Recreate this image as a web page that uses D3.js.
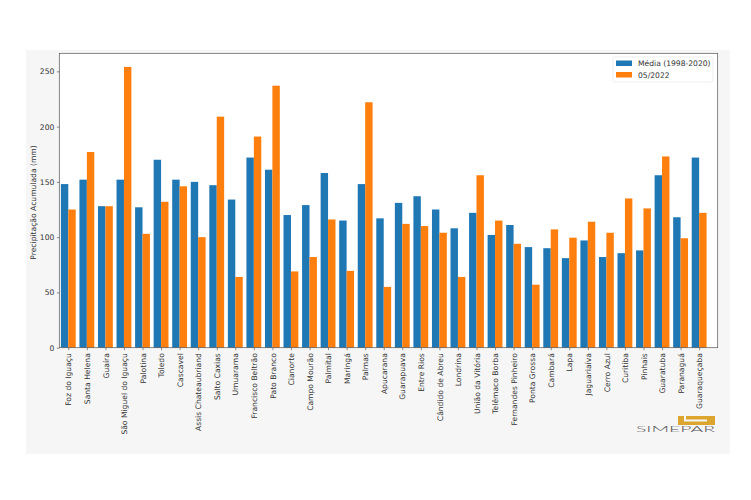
<!DOCTYPE html>
<html>
<head>
<meta charset="utf-8">
<script src="https://cdn.jsdelivr.net/npm/d3@7"></script>
<style>
  html, body { margin: 0; padding: 0; background: #fff; }
  svg { display: block; font-family: "DejaVu Sans", sans-serif; }
</style>
</head>
<body>
<svg id="chart"></svg>
<script>
const stations = ['Foz do Iguaçu', 'Santa Helena', 'Guaíra', 'São Miguel do Iguaçu', 'Palotina', 'Toledo', 'Cascavel',
  'Assis Chateaubriand', 'Salto Caxias', 'Umuarama', 'Francisco Beltrão', 'Pato Branco', 'Cianorte', 'Campo Mourão',
  'Palmital', 'Maringá', 'Palmas', 'Apucarana', 'Guarapuava', 'Entre Rios', 'Cândido de Abreu', 'Londrina',
  'União da Vitória', 'Telêmaco Borba', 'Fernandes Pinheiro', 'Ponta Grossa', 'Cambará', 'Lapa', 'Jaguariaíva',
  'Cerro Azul', 'Curitiba', 'Pinhais', 'Guaratuba', 'Paranaguá', 'Guaraqueçaba']
const media = [148, 152, 128, 152, 127, 170, 152, 150, 147, 134, 172, 161, 120, 129, 158, 115, 148, 117, 131, 137, 125,
  108, 122, 102, 111, 91, 90, 81, 97, 82, 85.5, 88, 156, 118, 172]
const mes = [125, 177, 128, 254, 103, 132, 146, 100, 209, 64, 191, 237, 69, 82, 116, 69.5, 222, 55, 112, 110, 104,
  64, 156, 115, 94, 57, 107, 99.5, 114, 104, 135, 126, 173, 99, 122]
const yTicks = [0, 50, 100, 150, 200, 250]
const seriesNames = ['Média (1998-2020)', '05/2022']
const blue = '#1f77b4'
const orange = '#ff7f0e'
const textColor = '#333'
const figureGrey = '#f6f6f6'

const w = 751
const h = 500
const plot = { left: 59.3, right: 717.7, top: 53.3, bottom: 347.7 }
const barWidth = 0.4

const svg = d3.select('#chart').attr('width', w).attr('height', h)

// grey figure background
svg.append('rect')
  .attr('x', 26).attr('y', 50)
  .attr('width', 704).attr('height', 404)
  .attr('fill', figureGrey)

svg.append('rect')
  .attr('x', plot.left).attr('y', plot.top)
  .attr('width', plot.right - plot.left).attr('height', plot.bottom - plot.top)
  .attr('fill', '#fff')

const x = d3.scaleLinear().domain([-0.485, 35]).range([plot.left, plot.right])
const y = d3.scaleLinear().domain([0, 266.3]).range([plot.bottom, plot.top])

svg.append('g').selectAll('rect')
  .data(media)
  .enter()
  .append('rect')
  .attr('x', (d, i) => x(i - barWidth))
  .attr('y', d => y(d))
  .attr('width', x(barWidth) - x(0))
  .attr('height', d => y(0) - y(d))
  .attr('fill', blue)

svg.append('g').selectAll('rect')
  .data(mes)
  .enter()
  .append('rect')
  .attr('x', (d, i) => x(i))
  .attr('y', d => y(d))
  .attr('width', x(barWidth) - x(0))
  .attr('height', d => y(0) - y(d))
  .attr('fill', orange)

// axes
const xAxis = d3.axisBottom(x)
  .tickValues(d3.range(stations.length))
  .tickFormat(i => stations[i])
  .tickSize(2.5)
  .tickPadding(2)
const gx = svg.append('g')
  .attr('transform', `translate(0, ${plot.bottom})`)
  .call(xAxis)
gx.select('.domain').remove()
gx.selectAll('text')
  .attr('transform', 'rotate(-90)')
  .attr('x', -5.5)
  .attr('y', 0)
  .attr('dy', '0.35em')
  .attr('text-anchor', 'end')
  .attr('font-size', 7.6)
  .attr('font-family', '"DejaVu Sans", sans-serif')
  .attr('fill', textColor)
gx.selectAll('line').attr('stroke', '#444').attr('stroke-width', 0.6)

const yAxis = d3.axisLeft(y).tickValues(yTicks).tickSize(2.5).tickPadding(2.5)
const gy = svg.append('g')
  .attr('transform', `translate(${plot.left}, 0)`)
  .call(yAxis)
gy.select('.domain').remove()
gy.selectAll('text')
  .attr('font-size', 7.6)
  .attr('font-family', '"DejaVu Sans", sans-serif')
  .attr('fill', textColor)
gy.selectAll('line').attr('stroke', '#444').attr('stroke-width', 0.6)

// frame
svg.append('rect')
  .attr('x', plot.left).attr('y', plot.top)
  .attr('width', plot.right - plot.left).attr('height', plot.bottom - plot.top)
  .attr('fill', 'none')
  .attr('stroke', '#555')
  .attr('stroke-width', 0.7)

svg.append('text')
  .attr('transform', `translate(35.5, ${(plot.top + plot.bottom) / 2 + 2}) rotate(-90)`)
  .attr('text-anchor', 'middle')
  .attr('font-size', 7.6)
  .attr('fill', textColor)
  .text('Precipitação Acumulada (mm)')

// legend
const legend = svg.append('g').attr('transform', 'translate(613, 57)')
legend.append('rect')
  .attr('width', 100).attr('height', 25)
  .attr('rx', 1.5)
  .attr('fill', '#fff')
  .attr('stroke', '#e2e2e2')
  .attr('stroke-width', 0.6)
const legendRow = legend.selectAll('g')
  .data(seriesNames)
  .enter()
  .append('g')
  .attr('transform', (d, i) => `translate(3, ${3.5 + i * 11.5})`)
legendRow.append('rect')
  .attr('width', 16).attr('height', 5.5)
  .attr('fill', (d, i) => [blue, orange][i])
legendRow.append('text')
  .attr('x', 22)
  .attr('y', 5.5)
  .attr('font-size', 7.6)
  .attr('fill', textColor)
  .text(d => d)

// simepar logo
const logo = svg.append('g')
logo.append('rect')
  .attr('x', 678).attr('y', 416)
  .attr('width', 37).attr('height', 9)
  .attr('fill', '#dba52f')
logo.append('path')
  .attr('d', 'M685 416V420.5H707')
  .attr('fill', 'none')
  .attr('stroke', figureGrey)
  .attr('stroke-width', 2)
logo.append('text')
  .attr('x', 636)
  .attr('y', 432)
  .attr('textLength', 79)
  .attr('lengthAdjust', 'spacingAndGlyphs')
  .attr('font-size', 8.5)
  .attr('font-family', 'Lato, sans-serif')
  .attr('font-weight', 300)
  .attr('fill', '#555')
  .text('SIMEPAR')
</script>
</body>
</html>
